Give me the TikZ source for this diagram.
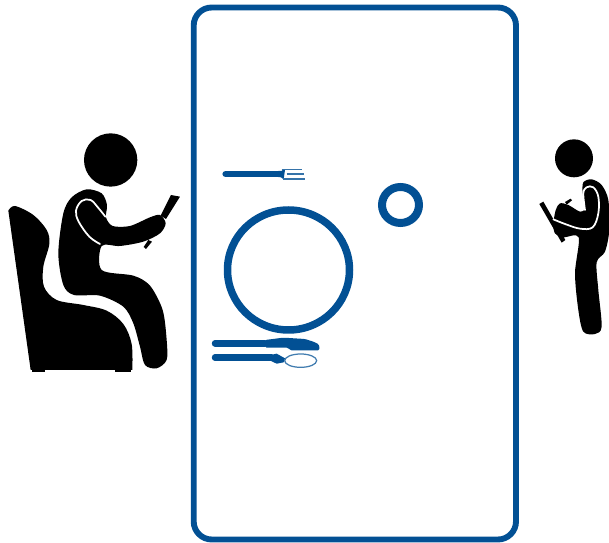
\documentclass[tikz,border=0pt]{standalone}
\usepackage{tikz}
\definecolor{tableblue}{RGB}{2,80,148}
\begin{document}
\begin{tikzpicture}[
    x=0.02cm, y=-0.02cm,
    rim/.style={draw=tableblue, line width=0.118cm},
    cutlery/.style={fill=tableblue},
    handle/.style={draw=tableblue, line width=0.13cm, line cap=round},
    tine/.style={draw=tableblue!80!white, line width=0.025cm},
    figure/.style={fill=black},
    crease/.style={draw=white, line width=0.035cm, line cap=round},
    zoomed/.style={x=0.00667cm, y=-0.00667cm},
  ]
  \useasboundingbox (0,0) rectangle (609,543);

  % table
  \draw[rim, rounded corners=0.36cm] (193.7,7.5) rectangle (516,539.5);
  \draw[rim, line width=0.15cm] (288.5,270) ellipse (61 and 60);
  \draw[rim, line width=0.16cm] (400.5,205) ellipse (18.5 and 18);

  % fork
  \begin{scope}[shift={(215,160)}, zoomed]
    \draw[handle] (32,42) -- (195,42);
    \fill[cutlery] (190,33) -- (200,33) -- (204,28) -- (210,30) -- (206,58) -- (198,52) -- (190,51) -- cycle;
    \draw[tine] (200,29) -- (262,29);
    \draw[tine, line width=0.035cm] (215,43) -- (266,43);
    \draw[tine, line width=0.035cm] (205,57) -- (271,57);
  \end{scope}

  % knife and spoon
  \begin{scope}[shift={(205,325)}, zoomed]
    \draw[handle] (30,55) -- (180,55);
    \fill[cutlery, rounded corners=0.03cm] (180,45) -- (235,38) -- (300,42) -- (325,50) -- (342,58)
      -- (344,76) -- (255,76) -- (250,68) -- (180,68) -- cycle;
    \draw[handle] (30,98) -- (200,98);
    \fill[cutlery] (198,90) -- (215,86) -- (240,100) -- (236,112) -- (215,116) -- (198,108) -- cycle;
    \draw[draw=tableblue!75!white, line width=0.025cm] (287,107) ellipse [x radius=48, y radius=20];
  \end{scope}

  % seated reader
  \begin{scope}[shift={(0,120)}, zoomed]
    \fill[figure] (332,120) circle [radius=80];
    \fill[figure] plot[smooth, tension=0.55] coordinates {
      (25,272) (45,258) (100,285) (140,330) (148,372) (130,440) (132,500) (170,540)
      (250,555) (320,572) (370,612) (395,672) (397,750)}
      -- (92,750) -- cycle;
    \fill[figure] (345,745) rectangle (392,757);
    \fill[figure] (95,745) rectangle (135,757);
    \fill[figure] plot[smooth cycle, tension=0.5] coordinates {
      (175,400) (190,280) (215,232) (260,208) (305,220) (321,255) (318,292)
      (338,318) (390,318) (450,292) (480,285) (497,310) (480,340) (430,365)
      (360,378) (305,378) (305,450) (400,467) (450,497) (488,570) (500,660)
      (500,720) (470,745) (435,735) (420,680) (400,610) (370,560) (300,527)
      (222,525) (190,495)};
    \fill[figure] (513,225) -- (540,230) -- (498,297) -- (482,287) -- cycle;
    \fill[figure] (445,360) -- (456,365) -- (438,387) -- (431,381) -- cycle;
    \draw[crease] plot[smooth, tension=0.6] coordinates {
      (300,372) (268,350) (236,305) (228,272) (245,243) (272,240) (296,265) (316,290)};
  \end{scope}

  % standing waiter
  \begin{scope}[shift={(530,130)}, zoomed]
    \fill[figure] (132,85) circle [radius=57];
    \fill[figure] plot[smooth cycle, tension=0.5] coordinates {
      (160,157) (185,148) (215,165) (235,210) (238,300) (225,365) (200,397)
      (205,480) (215,590) (195,612) (160,605) (145,540) (135,430) (146,322)
      (100,322) (75,310) (70,285) (72,265) (78,238) (90,220) (115,225)
      (150,245) (165,235) (158,190)};
    \fill[figure] (28,222) -- (40,215) -- (106,330) -- (95,338) -- cycle;
    \fill[figure] (105,216) -- (122,206) -- (126,211) -- (110,224) -- cycle;
    \draw[crease] plot[smooth, tension=0.6] coordinates {
      (70,268) (105,282) (150,296) (188,292) (205,250) (205,200) (190,172) (170,172) (160,190) (165,240)};
  \end{scope}
\end{tikzpicture}
\end{document}
